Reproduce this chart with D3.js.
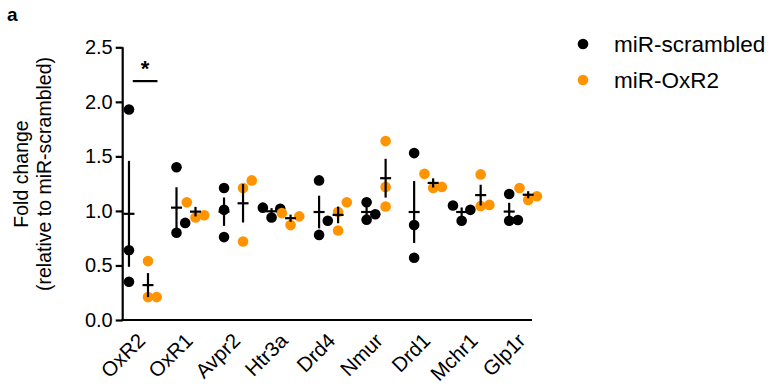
<!DOCTYPE html>
<html>
<head>
<meta charset="utf-8">
<script src="https://cdn.jsdelivr.net/npm/d3@7"></script>
<style>
  body { margin: 0; background: #fff; }
  svg { display: block; font-family: Arial, "Liberation Sans", sans-serif; }
</style>
</head>
<body>
<svg id="chart" width="769" height="390"></svg>
<script>
// gene names on the x axis
const categories = ['OxR2', 'OxR1', 'Avpr2', 'Htr3a', 'Drd4', 'Nmur', 'Drd1', 'Mchr1', 'Glp1r']
// fold change per replicate (3 per gene)
const scrambled = [
  [1.93, 0.64, 0.35], [1.40, 0.80, 0.89], [1.21, 1.01, 0.76],
  [1.03, 0.94, 1.02], [1.28, 0.91, 0.78], [1.08, 0.92, 0.97],
  [1.53, 0.87, 0.57], [1.05, 0.91, 1.01], [1.155, 0.91, 0.917]
]
const oxr2 = [
  [0.54, 0.21, 0.21], [1.08, 0.94, 0.96], [1.28, 1.21, 0.72],
  [0.98, 0.87, 0.95], [1.08, 0.99, 0.82], [1.64, 1.22, 1.04],
  [1.34, 1.21, 1.22], [1.335, 1.045, 1.055], [1.21, 1.10, 1.135]
]
const seriesNames = ['miR-scrambled', 'miR-OxR2']
const yTicks = [0, 0.5, 1.0, 1.5, 2.0, 2.5]

const colors = ['#000000', '#ff9300']
const R = 5.3
const SLOT = 8.7

const svg = d3.select('#chart')

// column index: group * 2.5 + series
const x = d3.scaleLinear().domain([-0.33, 21.2]).range([122.7, 532])
const y = d3.scaleLinear().domain([0, 2.5]).range([320, 47.3])

const g = svg.append('g')

// y axis
const yAxis = g.append('g')
  .attr('transform', `translate(${x.range()[0]},0)`)
  .call(d3.axisLeft(y).tickValues(yTicks).tickFormat(d3.format('.1f')).tickSize(7).tickSizeOuter(0).tickPadding(3))
yAxis.select('.domain').attr('stroke-width', 2.2).attr('d', `M0,${y(0) + 1}V${y(2.5)}`)
yAxis.selectAll('.tick line').attr('stroke-width', 2.2)
yAxis.selectAll('.tick text').attr('font-size', 20).attr('fill', '#000').attr('font-family', 'Arial, "Liberation Sans", sans-serif')

// x axis line
g.append('line')
  .attr('x1', x.range()[0] - 1).attr('x2', x.range()[1])
  .attr('y1', y(0)).attr('y2', y(0))
  .attr('stroke', '#000').attr('stroke-width', 2.2)

// x labels, centered on each gene pair
const xc = d3.scalePoint().domain(categories).range([x(0.5), x(20.5)])
const xAxis = g.append('g')
  .attr('transform', `translate(0,${y(0)})`)
  .call(d3.axisBottom(xc).tickSize(0).tickPadding(0))
xAxis.select('.domain').remove()
xAxis.selectAll('.tick text')
  .attr('font-size', 20.5)
  .attr('fill', '#000')
  .attr('font-family', 'Arial, "Liberation Sans", sans-serif')
  .attr('text-anchor', 'end')
  .attr('dy', 0)
  .attr('transform', 'translate(7.5,22) rotate(-45)')

// place points: greedy dodge, lowest first, slots 0, +1, -1
function dodge (vals) {
  const placed = []
  vals.slice().sort((a, b) => a - b).forEach(v => {
    for (const s of [0, 1, -1, 2, -2]) {
      const hit = placed.some(p => p.slot === s && Math.abs(y(p.v) - y(v)) < 16.5)
      if (!hit) { placed.push({ v, slot: s }); break }
    }
  })
  return placed
}

const allSeries = [scrambled, oxr2]
allSeries.forEach((series, si) => {
  series.forEach((vals, gi) => {
    const cx = x(gi * 2.5 + si)
    const pts = dodge(vals)
    g.append('g').selectAll('circle')
      .data(pts).enter().append('circle')
      .attr('cx', d => cx + d.slot * SLOT)
      .attr('cy', d => y(d.v))
      .attr('r', R)
      .attr('fill', colors[si])
  })
})

// mean and SEM bars on top
allSeries.forEach((series, si) => {
  series.forEach((vals, gi) => {
    const cx = x(gi * 2.5 + si)
    const m = d3.mean(vals)
    const sem = d3.deviation(vals) / Math.sqrt(vals.length)
    const bar = g.append('g').attr('stroke', '#000').attr('stroke-width', 2.2)
    bar.append('line').attr('x1', cx).attr('x2', cx).attr('y1', y(m - sem)).attr('y2', y(m + sem))
    bar.append('line').attr('x1', cx - 5.5).attr('x2', cx + 5.5).attr('y1', y(m)).attr('y2', y(m))
  })
})

// significance mark for OxR2
g.append('line')
  .attr('x1', x(0.2)).attr('x2', x(1.5))
  .attr('y1', y(2.19)).attr('y2', y(2.19))
  .attr('stroke', '#000').attr('stroke-width', 2.2)
g.append('text')
  .attr('x', (x(0.2) + x(1.5)) / 2).attr('y', y(2.19) - 5)
  .attr('text-anchor', 'middle')
  .attr('font-size', 22).attr('font-weight', 'bold')
  .text('*')

// y title
const yt = svg.append('text')
  .attr('transform', 'translate(0,174) rotate(-90)')
  .attr('text-anchor', 'middle')
  .attr('font-size', 19.5)
yt.append('tspan').attr('x', 0).attr('y', 28).text('Fold change')
yt.append('tspan').attr('x', 0).attr('y', 51).text('(relative to miR-scrambled)')

// panel letter
svg.append('text').attr('x', 7).attr('y', 21)
  .attr('font-size', 19).attr('font-weight', 'bold').text('a')

// legend
const legend = svg.append('g').attr('transform', 'translate(583,44)')
seriesNames.forEach((name, i) => {
  const row = legend.append('g').attr('transform', `translate(0,${i * 36})`)
  row.append('circle').attr('r', R).attr('fill', colors[i])
  row.append('text').attr('x', 31).attr('y', 8).attr('font-size', 22.5).text(name)
})
</script>
</body>
</html>
